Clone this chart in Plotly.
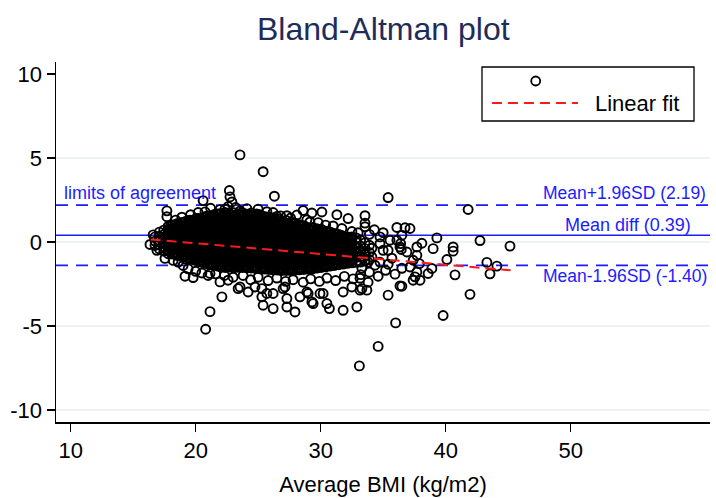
import plotly.graph_objects as go

# ---------------- data ----------------
# dense core of the cloud: one average-BMI column -> differences in that column
core_avg = [16.75, 17.1, 17.45, 17.8, 18.15, 18.5, 18.85, 19.2, 19.55, 19.9,
            20.25, 20.6, 20.95, 21.3, 21.65, 22.0, 22.35, 22.7, 23.05, 23.4,
            23.75, 24.1, 24.45, 24.8, 25.15, 25.5, 25.85, 26.2, 26.55, 26.9,
            27.25, 27.6, 27.95, 28.3, 28.65, 29.0, 29.35, 29.7, 30.05, 30.4,
            30.75, 31.1, 31.45, 31.8, 32.15, 32.5, 32.85, 33.2, 33.55, 33.9]
core_diff = [
    [-0.2, 0.05, 0.3],
    [-0.42, -0.16, 0.09, 0.34, 0.58],
    [-0.55, -0.3, -0.06, 0.2, 0.44, 0.7],
    [-0.7, -0.53, -0.28, -0.02, 0.23, 0.49, 0.74, 0.92],
    [-0.72, -0.47, -0.22, 0.04, 0.29, 0.53, 0.78, 1.0],
    [-0.8, -0.65, -0.39, -0.14, 0.12, 0.37, 0.62, 0.88, 1.08],
    [-0.84, -0.59, -0.33, -0.08, 0.18, 0.43, 0.68, 0.93, 1.15],
    [-1.02, -0.8, -0.55, -0.3, -0.04, 0.21, 0.46, 0.72, 0.97, 1.22],
    [-1.0, -0.74, -0.49, -0.23, 0.02, 0.28, 0.53, 0.78, 1.04, 1.3],
    [-1.08, -0.95, -0.7, -0.44, -0.19, 0.07, 0.32, 0.58, 0.83, 1.09, 1.34],
    [-1.16, -0.9, -0.64, -0.39, -0.13, 0.12, 0.38, 0.63, 0.89, 1.14, 1.4],
    [-1.24, -1.1, -0.85, -0.6, -0.35, -0.1, 0.16, 0.42, 0.67, 0.93, 1.18, 1.43],
    [-1.3, -1.04, -0.79, -0.53, -0.28, -0.02, 0.23, 0.49, 0.74, 1.0, 1.25, 1.55],
    [-1.36, -1.23, -0.98, -0.72, -0.47, -0.21, 0.04, 0.3, 0.55, 0.81, 1.06, 1.32, 1.57],
    [-1.42, -1.16, -0.91, -0.65, -0.4, -0.14, 0.11, 0.37, 0.62, 0.88, 1.13, 1.39, 1.68],
    [-1.48, -1.35, -1.1, -0.84, -0.59, -0.33, -0.08, 0.18, 0.43, 0.69, 0.94, 1.2, 1.45, 1.7],
    [-1.52, -1.27, -1.01, -0.76, -0.5, -0.25, 0.01, 0.26, 0.52, 0.77, 1.03, 1.28, 1.54, 1.75],
    [-1.5, -1.37, -1.11, -0.86, -0.6, -0.35, -0.09, 0.16, 0.42, 0.67, 0.93, 1.18, 1.44, 1.69],
    [-1.53, -1.28, -1.02, -0.77, -0.51, -0.26, 0.0, 0.25, 0.51, 0.76, 1.02, 1.27, 1.53, 1.74],
    [-1.51, -1.38, -1.12, -0.87, -0.61, -0.36, -0.1, 0.15, 0.41, 0.66, 0.92, 1.17, 1.43, 1.68],
    [-1.52, -1.27, -1.01, -0.76, -0.5, -0.25, 0.01, 0.26, 0.52, 0.77, 1.03, 1.28, 1.54, 1.74],
    [-1.54, -1.41, -1.15, -0.9, -0.64, -0.39, -0.13, 0.12, 0.38, 0.63, 0.89, 1.14, 1.4, 1.65],
    [-1.55, -1.3, -1.04, -0.79, -0.53, -0.28, -0.02, 0.23, 0.49, 0.74, 1.0, 1.25, 1.51, 1.72],
    [-1.58, -1.45, -1.19, -0.94, -0.68, -0.43, -0.17, 0.08, 0.34, 0.59, 0.85, 1.1, 1.36, 1.61],
    [-1.6, -1.35, -1.09, -0.84, -0.58, -0.33, -0.07, 0.18, 0.44, 0.69, 0.95, 1.2, 1.45, 1.62],
    [-1.62, -1.49, -1.23, -0.98, -0.72, -0.47, -0.21, 0.04, 0.3, 0.55, 0.81, 1.06, 1.32, 1.52],
    [-1.64, -1.38, -1.13, -0.87, -0.62, -0.36, -0.11, 0.15, 0.4, 0.66, 0.91, 1.17, 1.48],
    [-1.66, -1.53, -1.28, -1.02, -0.77, -0.51, -0.26, 0.0, 0.25, 0.51, 0.76, 1.02, 1.27, 1.42],
    [-1.68, -1.43, -1.17, -0.92, -0.66, -0.41, -0.15, 0.1, 0.36, 0.61, 0.87, 1.12, 1.38],
    [-1.7, -1.57, -1.31, -1.06, -0.8, -0.55, -0.29, -0.04, 0.22, 0.47, 0.73, 0.98, 1.23],
    [-1.7, -1.45, -1.19, -0.94, -0.68, -0.43, -0.17, 0.08, 0.34, 0.59, 0.85, 1.08, 1.28],
    [-1.7, -1.57, -1.31, -1.06, -0.8, -0.55, -0.29, -0.04, 0.22, 0.47, 0.73, 0.98, 1.18],
    [-1.68, -1.43, -1.17, -0.92, -0.66, -0.41, -0.15, 0.1, 0.36, 0.61, 0.87, 1.12],
    [-1.66, -1.53, -1.27, -1.02, -0.76, -0.51, -0.25, 0.0, 0.26, 0.51, 0.77, 1.02],
    [-1.64, -1.39, -1.13, -0.88, -0.62, -0.37, -0.11, 0.14, 0.4, 0.65, 0.96],
    [-1.62, -1.49, -1.23, -0.98, -0.72, -0.47, -0.21, 0.04, 0.3, 0.55, 0.82],
    [-1.6, -1.34, -1.09, -0.83, -0.58, -0.32, -0.07, 0.19, 0.44, 0.66, 0.86],
    [-1.56, -1.43, -1.18, -0.92, -0.67, -0.41, -0.16, 0.1, 0.35, 0.6, 0.78],
    [-1.52, -1.27, -1.01, -0.76, -0.5, -0.25, 0.01, 0.26, 0.52, 0.75],
    [-1.48, -1.35, -1.1, -0.84, -0.58, -0.33, -0.07, 0.18, 0.43, 0.64],
    [-1.44, -1.18, -0.93, -0.67, -0.42, -0.16, 0.09, 0.35, 0.6],
    [-1.4, -1.27, -1.02, -0.76, -0.51, -0.25, 0.0, 0.25, 0.5],
    [-1.36, -1.11, -0.85, -0.6, -0.34, -0.09, 0.17, 0.44],
    [-1.32, -1.19, -0.94, -0.68, -0.43, -0.17, 0.08, 0.34],
    [-1.28, -1.03, -0.77, -0.52, -0.26, -0.01, 0.25],
    [-1.25, -1.11, -0.86, -0.61, -0.35, -0.1, 0.16, 0.3],
    [-1.22, -0.92, -0.62, -0.32, -0.02, 0.24],
    [-1.2, -0.88, -0.56, -0.24, 0.1],
    [-1.12, -0.76, -0.4, -0.05],
    [-1.05, -0.62, -0.2],
]

# second, interleaved set of columns in the densest (solid black) part
core2_avg = [17.97, 18.32, 18.67, 19.02, 19.37, 19.72, 20.07, 20.42, 20.77, 21.12,
             21.47, 21.82, 22.17, 22.52, 22.87, 23.22, 23.57, 23.92, 24.27, 24.62,
             24.97, 25.32, 25.67, 26.02, 26.37, 26.72, 27.07, 27.42, 27.77, 28.12,
             28.47, 28.82, 29.17, 29.52, 29.87, 30.22, 30.57, 30.92, 31.27, 31.62,
             31.97, 32.32]
core2_diff = [
    [-0.62, -0.36, -0.1, 0.15, 0.41, 0.66, 0.9],
    [-0.7, -0.44, -0.19, 0.07, 0.32, 0.58, 0.83, 1.02],
    [-0.76, -0.5, -0.25, 0.01, 0.26, 0.52, 0.77, 1.03],
    [-0.86, -0.6, -0.35, -0.09, 0.16, 0.42, 0.67, 0.93, 1.16],
    [-0.95, -0.69, -0.44, -0.18, 0.07, 0.33, 0.58, 0.84, 1.09, 1.26],
    [-1.02, -0.77, -0.51, -0.26, 0.0, 0.25, 0.51, 0.76, 1.02, 1.27],
    [-1.1, -0.84, -0.59, -0.33, -0.08, 0.18, 0.43, 0.69, 0.94, 1.2, 1.39],
    [-1.19, -0.93, -0.68, -0.42, -0.17, 0.09, 0.34, 0.6, 0.85, 1.11, 1.36],
    [-1.26, -1.0, -0.75, -0.49, -0.24, 0.02, 0.27, 0.53, 0.78, 1.04, 1.29, 1.5],
    [-1.31, -1.05, -0.8, -0.54, -0.29, -0.03, 0.22, 0.48, 0.73, 0.99, 1.24, 1.5],
    [-1.38, -1.12, -0.87, -0.61, -0.36, -0.1, 0.15, 0.41, 0.66, 0.92, 1.17, 1.43, 1.62],
    [-1.44, -1.18, -0.93, -0.67, -0.42, -0.16, 0.09, 0.35, 0.6, 0.86, 1.11, 1.37, 1.62],
    [-1.47, -1.21, -0.96, -0.7, -0.45, -0.19, 0.06, 0.32, 0.57, 0.83, 1.08, 1.34, 1.59],
    [-1.46, -1.2, -0.95, -0.69, -0.44, -0.18, 0.07, 0.33, 0.58, 0.84, 1.09, 1.35, 1.6],
    [-1.45, -1.19, -0.94, -0.68, -0.43, -0.17, 0.08, 0.34, 0.59, 0.85, 1.1, 1.36, 1.61],
    [-1.47, -1.21, -0.96, -0.7, -0.45, -0.19, 0.06, 0.32, 0.57, 0.83, 1.08, 1.34, 1.6],
    [-1.46, -1.2, -0.95, -0.69, -0.44, -0.18, 0.07, 0.33, 0.58, 0.84, 1.09, 1.35, 1.61],
    [-1.47, -1.22, -0.96, -0.71, -0.45, -0.2, 0.06, 0.31, 0.57, 0.82, 1.08, 1.33, 1.59],
    [-1.49, -1.23, -0.98, -0.72, -0.47, -0.21, 0.04, 0.3, 0.55, 0.81, 1.06, 1.32, 1.57],
    [-1.51, -1.25, -1.0, -0.74, -0.49, -0.23, 0.02, 0.28, 0.53, 0.79, 1.04, 1.3, 1.55],
    [-1.53, -1.28, -1.02, -0.77, -0.51, -0.26, 0.0, 0.25, 0.51, 0.76, 1.02, 1.27, 1.5],
    [-1.55, -1.3, -1.04, -0.79, -0.53, -0.28, -0.02, 0.23, 0.49, 0.74, 1.0, 1.25, 1.47],
    [-1.57, -1.32, -1.06, -0.81, -0.55, -0.3, -0.04, 0.21, 0.47, 0.72, 0.98, 1.23, 1.43],
    [-1.6, -1.34, -1.09, -0.83, -0.58, -0.32, -0.07, 0.19, 0.44, 0.7, 0.95, 1.21, 1.4],
    [-1.62, -1.36, -1.11, -0.85, -0.6, -0.34, -0.09, 0.17, 0.42, 0.68, 0.93, 1.19, 1.36],
    [-1.64, -1.38, -1.13, -0.87, -0.62, -0.36, -0.11, 0.15, 0.4, 0.66, 0.91, 1.17],
    [-1.65, -1.39, -1.14, -0.88, -0.63, -0.37, -0.12, 0.14, 0.39, 0.65, 0.9, 1.16],
    [-1.65, -1.4, -1.14, -0.89, -0.63, -0.38, -0.12, 0.13, 0.39, 0.64, 0.9, 1.12],
    [-1.64, -1.38, -1.13, -0.87, -0.62, -0.36, -0.11, 0.15, 0.4, 0.66, 0.91, 1.1],
    [-1.62, -1.36, -1.11, -0.85, -0.6, -0.34, -0.09, 0.17, 0.42, 0.68, 0.93],
    [-1.6, -1.34, -1.09, -0.83, -0.58, -0.32, -0.07, 0.19, 0.44, 0.7, 0.95],
    [-1.58, -1.32, -1.07, -0.81, -0.56, -0.3, -0.05, 0.21, 0.46, 0.72, 0.9],
    [-1.56, -1.3, -1.05, -0.79, -0.54, -0.28, -0.03, 0.23, 0.48, 0.74],
    [-1.53, -1.27, -1.02, -0.76, -0.51, -0.25, 0.0, 0.26, 0.51, 0.76],
    [-1.49, -1.23, -0.98, -0.72, -0.47, -0.21, 0.04, 0.3, 0.55, 0.72],
    [-1.45, -1.19, -0.94, -0.68, -0.43, -0.17, 0.08, 0.34, 0.59],
    [-1.41, -1.15, -0.9, -0.64, -0.39, -0.13, 0.12, 0.38, 0.6],
    [-1.37, -1.11, -0.86, -0.6, -0.35, -0.09, 0.16, 0.42],
    [-1.33, -1.07, -0.82, -0.56, -0.31, -0.05, 0.2, 0.45],
    [-1.29, -1.03, -0.78, -0.52, -0.27, -0.01, 0.24, 0.4],
    [-1.25, -0.99, -0.74, -0.48, -0.23, 0.03, 0.3],
    [-1.21, -0.95, -0.7, -0.44, -0.19, 0.07, 0.28],
]

# individually visible points (fringe of the cloud and outliers)
edge_avg = [23.55, 25.4, 22.7, 22.75, 22.9, 22.6, 26.3, 20.6, 17.7, 17.7,
            18.9, 20.75, 21.95, 22.35, 23.55, 24.35, 24.9, 26.5, 27.3, 28.1,
            28.6, 29.3, 30.1, 31.3, 32.2, 33.55, 33.55, 33.55, 35.4, 29.15,
            18.4, 19.6, 20.2, 21.2, 23.2, 24.1, 25.0, 25.7, 26.2, 26.8,
            27.6, 28.9, 29.8, 30.4, 31.0, 31.7, 32.5, 33.0, 33.9, 34.3,
            35.0, 16.6, 16.35, 16.9, 17.55,
            36.1, 36.75, 37.15, 34.75, 36.1, 36.5, 39.3, 42.75, 45.15, 38.1,
            37.7, 39.0, 40.6, 40.6, 40.1, 35.4, 36.35, 36.9, 37.7, 37.4,
            37.9, 37.15, 37.7, 37.55, 38.6, 38.9, 40.75, 43.3, 44.1, 43.55,
            41.95, 39.8, 41.8, 34.75, 35.55, 35.0, 34.1, 33.15, 33.4, 33.8,
            34.35, 33.3, 33.9, 34.6, 33.15, 35.2, 35.7, 34.75, 34.1, 35.4,
            35.95, 36.5, 37.95, 37.4, 36.5, 36.45, 36.4,
            19.15, 19.8, 21.15, 21.95, 22.6, 23.55, 24.2, 25.3, 25.3, 25.4,
            26.2, 26.2, 27.15, 27.3, 27.3, 27.95, 28.35, 28.9, 29.4, 30.2,
            30.5, 30.7, 31.8, 32.9, 31.8, 33.15, 33.7, 22.1, 21.15, 20.8,
            23.4, 24.75, 25.7, 29.0, 29.95, 32.5, 33.3, 27.0, 35.4, 36.35,
            36.0, 34.6, 33.1, 29.3,
            18.2, 18.6, 19.0, 19.4, 20.0, 20.5, 21.0, 21.6, 22.3, 23.0,
            23.8, 24.4, 25.0, 25.8, 26.5, 27.2, 27.8, 28.6, 29.2, 29.9,
            30.5, 31.2, 31.9, 32.6, 33.2, 33.8]
edge_diff = [5.18, 4.18, 3.06, 2.68, 2.38, 2.1, 2.72, 2.46, 1.85, 1.5,
             1.47, 1.79, 1.92, 1.95, 1.84, 1.62, 1.66, 1.52, 1.56, 1.6,
             1.87, 1.72, 1.78, 1.62, 1.39, 1.56, 1.12, 0.9, 2.64, 1.19,
             1.3, 1.62, 1.75, 2.0, 2.05, 1.98, 1.95, 1.8, 1.75, 1.55,
             1.42, 1.32, 1.15, 1.0, 0.95, 0.8, 0.62, 0.55, 0.45, 0.72,
             0.55, 0.42, -0.15, -0.5, -0.98,
             0.86, 0.84, 0.8, 0.3, 0.1, 0.4, 0.24, 0.08, -0.25, -0.08,
             -0.3, -0.4, -0.3, -0.55, -1.05, -0.5, -0.3, -0.6, -0.8, -1.09,
             -1.29, -1.49, -1.79, -2.08, -1.88, -1.58, -1.96, -1.22, -1.44, -1.9,
             -3.12, -4.38, 1.93, -0.1, 0.1, -0.5, -0.9, -0.6, -0.97, -1.21,
             -1.39, -1.57, -1.8, -2.04, -2.16, -1.69, -0.97, -1.21, -0.38, -1.33,
             -1.92, -1.57, -2.28, -2.28, -2.64, -0.45, -0.1,
             -2.04, -2.12, -1.88, -2.38, -2.28, -2.68, -2.98, -2.78, -3.27, -3.77,
             -3.97, -3.07, -2.68, -3.37, -3.87, -4.17, -3.27, -2.98, -3.67, -3.07,
             -3.67, -3.97, -4.07, -3.87, -2.98, -2.87, -2.87, -3.27, -4.15, -5.2,
             -2.78, -2.68, -3.07, -3.07, -3.07, -2.68, -2.78, -2.78, -3.17, -2.62,
             -4.82, -6.22, -7.38, -3.57,
             -1.1, -1.2, -1.4, -1.6, -1.75, -1.85, -2.0, -1.9, -2.0, -2.1,
             -2.0, -2.25, -2.1, -2.3, -2.15, -2.35, -2.25, -2.4, -2.2, -2.35,
             -2.15, -2.3, -2.05, -2.2, -1.95, -2.4]

fit_avg = [16.4, 45.2]          # ends of the linear fit line
fit_diff = [0.15, -1.69]

mean_diff = 0.39
upper_loa = 2.19
lower_loa = -1.40

x_ticks = [10, 20, 30, 40, 50]
y_ticks = [-10, -5, 0, 5, 10]
y_tick_text = ["-10", "-5", "0", "5", "10"]
grid_y = [-10, -5, 0, 5]

title_text = "Bland-Altman plot"
x_title = "Average BMI (kg/m2)"
fit_label = "Linear fit"
upper_label = "Mean+1.96SD (2.19)"
mean_label = "Mean diff (0.39)"
lower_label = "Mean-1.96SD (-1.40)"
loa_label = "limits of agreement"

# ---------------- build ----------------
avg, diff = [], []
for cols, vals in ((core_avg, core_diff), (core2_avg, core2_diff)):
    for xv, ys in zip(cols, vals):
        for yv in ys:
            avg.append(xv)
            diff.append(yv)
avg += edge_avg
diff += edge_diff

W, H = 716, 498
L, R, T, B = 56, 6, 62, 76
PW, PH = W - L - R, H - T - B
FONT = "Liberation Sans, Arial, Helvetica, sans-serif"
BLUE = "#1c1cff"
NAVY = "#1e2c5a"


def px(xp):
    return (xp - L) / PW


def py(yp):
    return (H - B - yp) / PH


fig = go.Figure()
fig.add_trace(go.Scatter(
    x=avg, y=diff, mode="markers", showlegend=False, hoverinfo="skip",
    marker=dict(symbol="circle-open", size=9, color="black",
                line=dict(color="black", width=1.9))))
fig.add_trace(go.Scatter(
    x=fit_avg, y=fit_diff, mode="lines", showlegend=False, hoverinfo="skip",
    line=dict(color="#ff1a1a", width=2, dash="10px,6px")))

shapes = []
for g in grid_y:
    shapes.append(dict(type="line", xref="paper", yref="y", x0=0, x1=1, y0=g, y1=g,
                       layer="below", line=dict(color="#e8eef1", width=1.5)))
shapes.append(dict(type="line", xref="paper", yref="y", x0=0, x1=1,
                   y0=upper_loa, y1=upper_loa, layer="below",
                   line=dict(color=BLUE, width=1.8, dash="12px,8px")))
shapes.append(dict(type="line", xref="paper", yref="y", x0=0, x1=1,
                   y0=lower_loa, y1=lower_loa, layer="below",
                   line=dict(color=BLUE, width=1.8, dash="12px,8px")))
shapes.append(dict(type="line", xref="paper", yref="y", x0=0, x1=1,
                   y0=mean_diff, y1=mean_diff, layer="below",
                   line=dict(color=BLUE, width=1.5)))
# legend box
shapes.append(dict(type="rect", xref="paper", yref="paper",
                   x0=px(482), x1=px(694), y0=py(121), y1=py(67),
                   fillcolor="white", line=dict(color="black", width=1.3)))
shapes.append(dict(type="circle", xref="paper", yref="paper",
                   x0=px(535.7 - 4.5), x1=px(535.7 + 4.5),
                   y0=py(81 + 4.5), y1=py(81 - 4.5),
                   line=dict(color="black", width=1.8)))
shapes.append(dict(type="line", xref="paper", yref="paper",
                   x0=px(492), x1=px(578), y0=py(103), y1=py(103),
                   line=dict(color="#ff1a1a", width=2, dash="10px,6px")))

ann = []
ann.append(dict(text=title_text, xref="paper", yref="paper", x=0.5, y=py(29),
                xanchor="center", yanchor="middle", showarrow=False,
                font=dict(family=FONT, size=32, color=NAVY)))
ann.append(dict(text=fit_label, xref="paper", yref="paper", x=px(593), y=py(103),
                xanchor="left", yanchor="middle", showarrow=False,
                font=dict(family=FONT, size=22, color="black")))
ann.append(dict(text=loa_label, xref="paper", yref="y", x=px(62), y=upper_loa,
                xanchor="left", yanchor="middle", yshift=12, showarrow=False,
                font=dict(family=FONT, size=18, color=BLUE)))
ann.append(dict(text=upper_label, xref="paper", yref="y", x=px(541), y=upper_loa,
                xanchor="left", yanchor="middle", yshift=12, showarrow=False,
                font=dict(family=FONT, size=17.5, color=BLUE)))
ann.append(dict(text=mean_label, xref="paper", yref="y", x=px(563), y=mean_diff,
                xanchor="left", yanchor="middle", yshift=10, showarrow=False,
                font=dict(family=FONT, size=18, color=BLUE)))
ann.append(dict(text=lower_label, xref="paper", yref="y", x=px(541), y=lower_loa,
                xanchor="left", yanchor="middle", yshift=-11, showarrow=False,
                font=dict(family=FONT, size=17.5, color=BLUE)))

fig.update_layout(
    width=W, height=H, margin=dict(l=L, r=R, t=T, b=B),
    paper_bgcolor="white", plot_bgcolor="white",
    font=dict(family=FONT, size=22, color="black"),
    shapes=shapes, annotations=ann, showlegend=False,
    xaxis=dict(range=[8.83, 61.15], tickvals=x_ticks, ticks="outside", ticklen=8,
               tickwidth=1.5, tickcolor="black", showline=True, linecolor="black",
               linewidth=1.5, showgrid=False, zeroline=False,
               tickfont=dict(family=FONT, size=22, color="black"),
               title=dict(text=x_title, standoff=14,
                          font=dict(family=FONT, size=22, color="black"))),
    yaxis=dict(range=[-10.72, 10.71], tickvals=y_ticks, ticktext=y_tick_text,
               ticks="outside", ticklen=8, tickwidth=1.5, tickcolor="black",
               showline=True, linecolor="black", linewidth=1.5, showgrid=False,
               zeroline=False, tickfont=dict(family=FONT, size=22, color="black")),
)

fig.write_html("out.html",
               config={"displayModeBar": False, "staticPlot": True},
               post_script="document.body.style.margin='0px';"
                           "document.body.style.overflow='hidden';")
